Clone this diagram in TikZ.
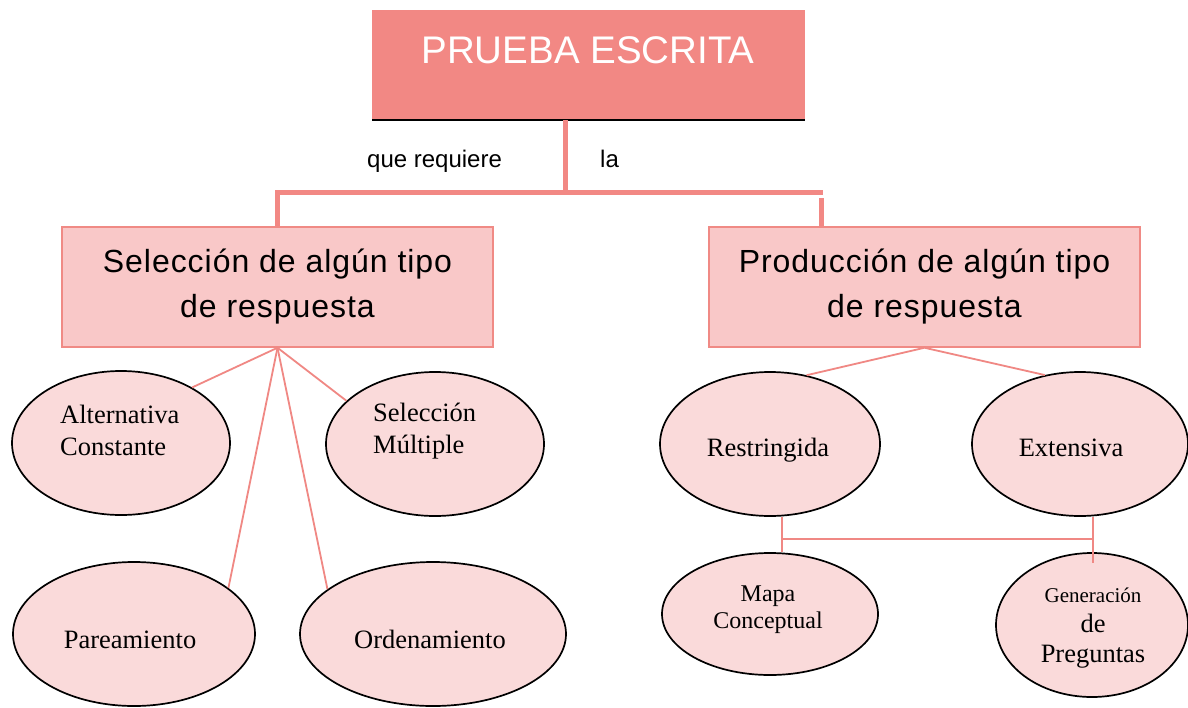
\documentclass[tikz,border=0pt]{standalone}
\usepackage{fontspec}
\setmainfont{Liberation Serif}
\newfontfamily\sansA[LetterSpace=3]{Liberation Sans}
\newfontfamily\sansB{Liberation Sans}
\usetikzlibrary{shapes.geometric}
\definecolor{salmon}{HTML}{F28884}
\definecolor{boxpink}{HTML}{F9C8C8}
\definecolor{boxline}{HTML}{F08A85}
\definecolor{ellpink}{HTML}{FADADA}
\definecolor{conn}{HTML}{F08884}
\begin{document}
\begin{tikzpicture}[x=1pt,y=-1pt,
  ell/.style={ellipse, draw=black, line width=1.7pt, fill=ellpink, inner sep=0pt},
  etext/.style={font=\fontsize{26.5}{32}\selectfont, inner sep=0pt},
  bigbox/.style={rectangle, draw=boxline, line width=1.5pt, fill=boxpink, minimum width=431pt, minimum height=120pt, inner sep=0pt, align=center, font=\sansA\fontsize{32}{45}\selectfont},
  thickconn/.style={draw=salmon, line width=5pt},
  thinconn/.style={draw=conn, line width=1.8pt},
  smalltext/.style={font=\sansB\fontsize{24}{26}\selectfont, inner sep=0pt, anchor=base west}]
\useasboundingbox (0,0) rectangle (1188,707);
\fill[white] (0,0) rectangle (1188,707);

% top box
\node[rectangle, fill=salmon, minimum width=433pt, minimum height=110pt, inner sep=0pt] (top) at (588.5,65) {};
\node[text=white, font=\sansB\fontsize{38.5}{40}\selectfont, inner sep=0pt] (title) at (588,50) {PRUEBA ESCRITA};
\draw[black, line width=2pt] (top.south west) -- (top.south east);

% second level boxes
\node[bigbox] (lsel) at (277.5,287) {Selección de algún tipo\\de respuesta};
\node[bigbox] (rsel) at (924.5,287) {Producción de algún tipo\\de respuesta};

% thick connectors
\coordinate (stem) at (565,120);
\coordinate (hl) at (275,192);
\coordinate (hr) at (823,192);
\coordinate (rv) at (821,198);
\draw[thickconn] (stem) -- (stem |- hl);
\draw[thickconn] (hl) -- (hr);
\draw[thickconn] (lsel.north |- hl) -- (lsel.north);
\draw[thickconn] (rv) -- (rv |- rsel.north);

\node[smalltext] (qr) at (367,167) {que requiere};
\node[smalltext] (la) at (600,167) {la};

% ellipses
\node[ell, minimum width=218pt, minimum height=144pt] (alt) at (121,443) {};
\node[ell, minimum width=218pt, minimum height=144pt] (sel) at (435,444) {};
\node[ell, minimum width=242pt, minimum height=144pt] (par) at (134,634) {};
\node[ell, minimum width=266pt, minimum height=144pt] (ord) at (433,634) {};
\node[ell, minimum width=220pt, minimum height=144pt] (res) at (770,444) {};
\node[ell, minimum width=216pt, minimum height=144pt] (ext) at (1080,444) {};
\node[ell, minimum width=216pt, minimum height=122pt] (map) at (770,614) {};
\node[ell, minimum width=192pt, minimum height=144pt] (gen) at (1092,625) {};

% thin connectors
\draw[thinconn] (lsel.south) -- (alt.38);
\draw[thinconn] (lsel.south) -- (sel.154);
\draw[thinconn] (lsel.south) -- (par.26);
\draw[thinconn] (lsel.south) -- (ord.157);
\draw[thinconn] (rsel.south) -- (res.62);
\draw[thinconn] (rsel.south) -- (ext.117);
\coordinate (j1) at (782,539);
\coordinate (j2) at (1093,539);
\coordinate (gtip) at (1093,563);
\draw[thinconn] (j1 |- res.south) -- (j1 |- map.north);
\draw[thinconn] (j1) -- (j2);
\draw[thinconn] (j2 |- ext.south) -- (gtip);

% ellipse texts
\node[etext, align=left, anchor=west] (altT) at (60,430) {Alternativa\\Constante};
\node[etext, align=left, anchor=west] (selT) at (373,431) {Selección\\Múltiple};
\node[etext, anchor=base] (parT) at (130,648) {Pareamiento};
\node[etext, anchor=base] (ordT) at (430,648) {Ordenamiento};
\node[etext, anchor=base] (resT) at (768,456) {Restringida};
\node[etext, anchor=base] (extT) at (1071,456) {Extensiva};
\node[inner sep=0pt, align=center, font=\fontsize{24}{27}\selectfont] (mapT) at (768,610) {Mapa\\Conceptual};
\node[inner sep=0pt, anchor=base, font=\fontsize{21}{24}\selectfont] (genA) at (1093,602) {Generación};
\node[etext, anchor=base] (genB) at (1093,632) {de};
\node[etext, anchor=base] (genC) at (1093,662) {Preguntas};
\end{tikzpicture}
\end{document}
